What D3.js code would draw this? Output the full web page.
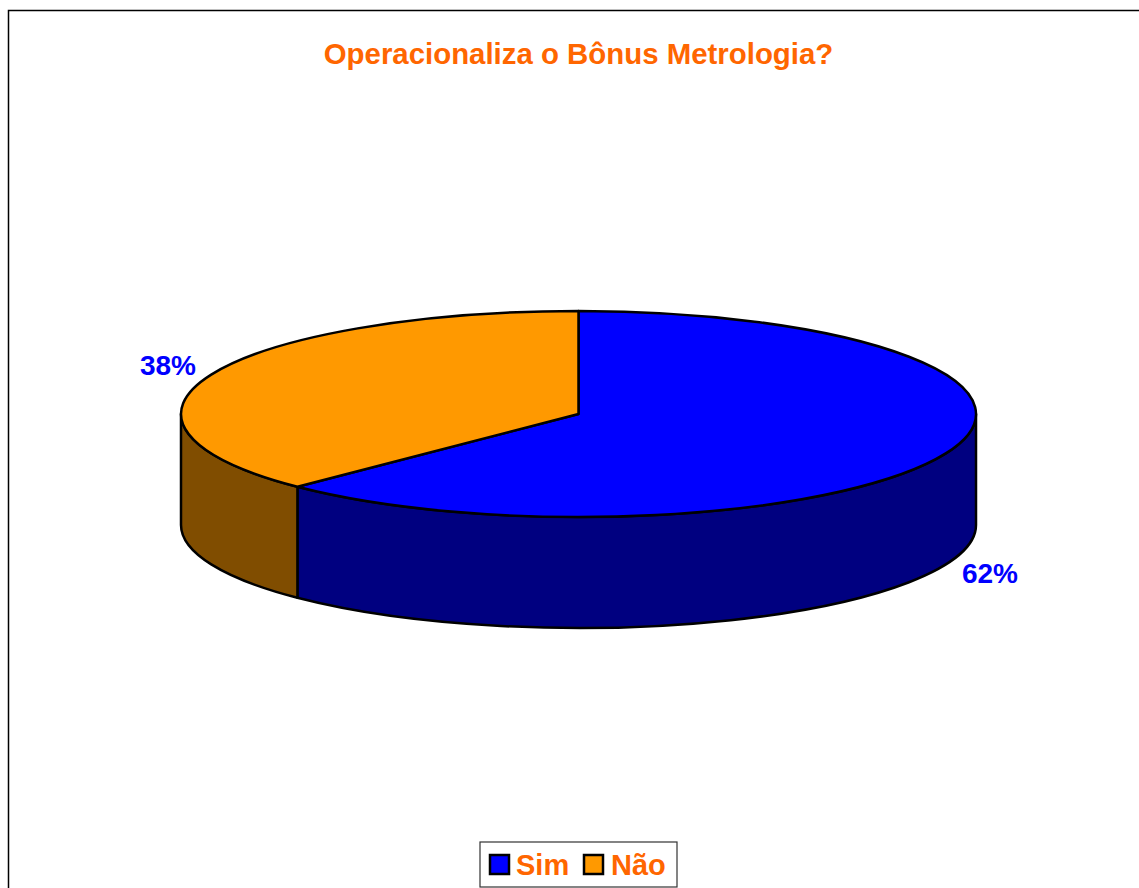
<!DOCTYPE html>
<html>
<head>
<meta charset="utf-8">
<script src="https://cdnjs.cloudflare.com/ajax/libs/d3/7.8.5/d3.min.js"></script>
<style>
  html, body { margin: 0; padding: 0; background: #fff; overflow: hidden; }
  text { font-family: "Liberation Sans", Arial, sans-serif; font-weight: bold; }
</style>
</head>
<body>
<div id="chart"></div>
<script>
const titleText = "Operacionaliza o Bônus Metrologia?"
const categories = ["Sim", "Não"]
const sliceValues = [62.5, 37.5]
const sliceLabels = ["62%", "38%"]
const topColors = ["#0000FF", "#FF9900"]
const wallColors = ["#000080", "#804D00"]

const width = 1139, height = 888
const orange = "#FF6600"

const cx = 578.5, cy = 414
const rx = 397.5, ry = 103, depth = 111

const svg = d3.select("#chart").append("svg")
  .attr("width", width)
  .attr("height", height)
  .style("display", "block")

// outer frame, runs off the bottom and right of the picture
svg.append("path")
  .attr("d", "M8.5,888V10.5H1139")
  .attr("fill", "none")
  .attr("stroke", "#000")
  .attr("stroke-width", 1.5)

svg.append("text")
  .attr("x", 578.5)
  .attr("y", 64)
  .attr("text-anchor", "middle")
  .attr("font-size", 29.4)
  .attr("fill", orange)
  .text(titleText)

const pie = d3.pie().sort(null)
const slices = pie(sliceValues)

function px(a) { return cx + rx * Math.sin(a) }
function py(a, drop) { return cy - ry * Math.cos(a) + (drop || 0) }

// side wall of the disc, only the front half (90 to 270 deg) can be seen
function wallPath(d) {
  let a0 = Math.max(d.startAngle, Math.PI / 2)
  let a1 = Math.min(d.endAngle, Math.PI * 1.5)
  if (a1 <= a0) return null
  return "M" + px(a0) + "," + py(a0)
    + "A" + rx + "," + ry + " 0 0 1 " + px(a1) + "," + py(a1)
    + "L" + px(a1) + "," + py(a1, depth)
    + "A" + rx + "," + ry + " 0 0 0 " + px(a0) + "," + py(a0, depth)
    + "Z"
}

svg.append("g").selectAll("path")
  .data(slices)
  .join("path")
  .attr("d", wallPath)
  .attr("fill", (d, i) => wallColors[i])
  .attr("stroke", "#000")
  .attr("stroke-width", 2.5)
  .attr("stroke-linejoin", "round")

// top face, d3.arc squashed into an ellipse
let arc = d3.arc().innerRadius(0).outerRadius(rx)

svg.append("g")
  .attr("transform", "translate(" + cx + "," + cy + ") scale(1," + (ry / rx) + ")")
  .selectAll("path")
  .data(slices)
  .join("path")
  .attr("d", arc)
  .attr("fill", (d, i) => topColors[i])
  .attr("stroke", "#000")
  .attr("stroke-width", 2.5)
  .attr("stroke-linejoin", "round")
  .attr("vector-effect", "non-scaling-stroke")

// value labels
const labelX = [990, 168]
const labelY = [583, 375]
svg.append("g").selectAll("text")
  .data(sliceLabels)
  .join("text")
  .attr("x", (d, i) => labelX[i])
  .attr("y", (d, i) => labelY[i])
  .attr("text-anchor", "middle")
  .attr("font-size", 28)
  .attr("fill", "#0000FF")
  .text(d => d)

// legend
let legend = svg.append("g")
legend.append("rect")
  .attr("x", 480)
  .attr("y", 842)
  .attr("width", 197)
  .attr("height", 45)
  .attr("fill", "#fff")
  .attr("stroke", "#333")
  .attr("stroke-width", 1.2)

const swatchX = [490, 584]
const legendTextX = [516, 611]
legend.selectAll("rect.swatch")
  .data(categories)
  .join("rect")
  .attr("class", "swatch")
  .attr("x", (d, i) => swatchX[i])
  .attr("y", 855)
  .attr("width", 19)
  .attr("height", 19)
  .attr("fill", (d, i) => topColors[i])
  .attr("stroke", "#000")
  .attr("stroke-width", 2.5)

legend.selectAll("text")
  .data(categories)
  .join("text")
  .attr("x", (d, i) => legendTextX[i])
  .attr("y", 875)
  .attr("font-size", 29)
  .attr("fill", orange)
  .text(d => d)
</script>
</body>
</html>
